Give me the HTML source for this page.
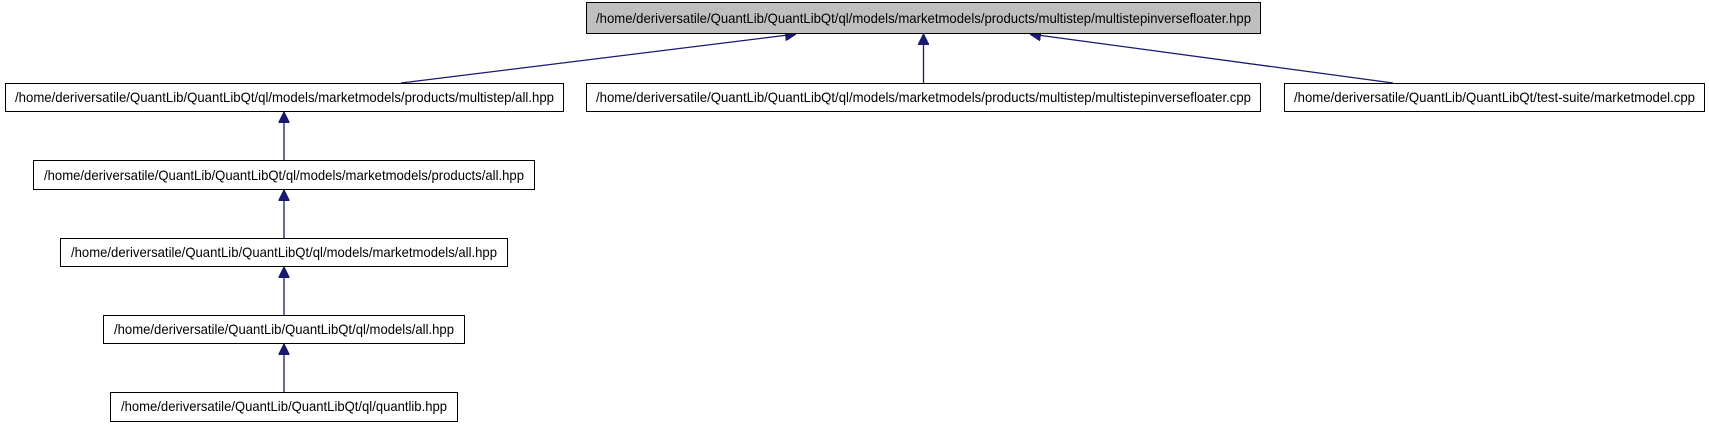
<!DOCTYPE html>
<html><head><meta charset="utf-8"><style>html,body{margin:0;padding:0;background:#fff}svg{display:block}</style></head>
<body>
<svg width="1709" height="427" viewBox="0 0 1709 427" xmlns="http://www.w3.org/2000/svg" font-family="Liberation Sans, Arial, sans-serif" font-size="14">
<defs>
<marker id="a" viewBox="0 0 10 10" refX="10" refY="5" markerWidth="11" markerHeight="11" markerUnits="userSpaceOnUse" orient="auto">
<path d="M0,0 L10,5 L0,10 z" fill="#191970" stroke="#191970"/>
</marker>
</defs>
<g stroke="#191970" stroke-width="1.3" fill="none">
<line x1="401" y1="83" x2="796" y2="34" marker-end="url(#a)"/>
<line x1="923.5" y1="83" x2="923.5" y2="34" marker-end="url(#a)"/>
<line x1="1393" y1="83" x2="1030" y2="34" marker-end="url(#a)"/>
<line x1="284" y1="160" x2="284" y2="112" marker-end="url(#a)"/>
<line x1="284" y1="238" x2="284" y2="190" marker-end="url(#a)"/>
<line x1="284" y1="315" x2="284" y2="267" marker-end="url(#a)"/>
<line x1="284" y1="392" x2="284" y2="344" marker-end="url(#a)"/>
</g>
<g stroke="#000" stroke-width="1">
<rect x="586.5" y="2.5" width="674" height="31" fill="#bfbfbf"/>
<rect x="5.5" y="83.5" width="558" height="28" fill="#fff"/>
<rect x="586.5" y="83.5" width="674" height="28" fill="#fff"/>
<rect x="1284.5" y="83.5" width="420" height="28" fill="#fff"/>
<rect x="33.5" y="160.5" width="501" height="29" fill="#fff"/>
<rect x="60.5" y="238.5" width="447" height="28" fill="#fff"/>
<rect x="103.5" y="315.5" width="361" height="28" fill="#fff"/>
<rect x="110.5" y="392.5" width="347" height="29" fill="#fff"/>
</g>
<g fill="#000">
<text x="596" y="23" textLength="655" lengthAdjust="spacingAndGlyphs">/home/deriversatile/QuantLib/QuantLibQt/ql/models/marketmodels/products/multistep/multistepinversefloater.hpp</text>
<text x="15" y="102" textLength="539" lengthAdjust="spacingAndGlyphs">/home/deriversatile/QuantLib/QuantLibQt/ql/models/marketmodels/products/multistep/all.hpp</text>
<text x="596" y="102" textLength="655" lengthAdjust="spacingAndGlyphs">/home/deriversatile/QuantLib/QuantLibQt/ql/models/marketmodels/products/multistep/multistepinversefloater.cpp</text>
<text x="1294" y="102" textLength="401" lengthAdjust="spacingAndGlyphs">/home/deriversatile/QuantLib/QuantLibQt/test-suite/marketmodel.cpp</text>
<text x="44" y="180" textLength="480" lengthAdjust="spacingAndGlyphs">/home/deriversatile/QuantLib/QuantLibQt/ql/models/marketmodels/products/all.hpp</text>
<text x="71" y="257" textLength="426" lengthAdjust="spacingAndGlyphs">/home/deriversatile/QuantLib/QuantLibQt/ql/models/marketmodels/all.hpp</text>
<text x="114" y="334" textLength="340" lengthAdjust="spacingAndGlyphs">/home/deriversatile/QuantLib/QuantLibQt/ql/models/all.hpp</text>
<text x="121" y="411" textLength="326" lengthAdjust="spacingAndGlyphs">/home/deriversatile/QuantLib/QuantLibQt/ql/quantlib.hpp</text>
</g>
</svg>
</body></html>
